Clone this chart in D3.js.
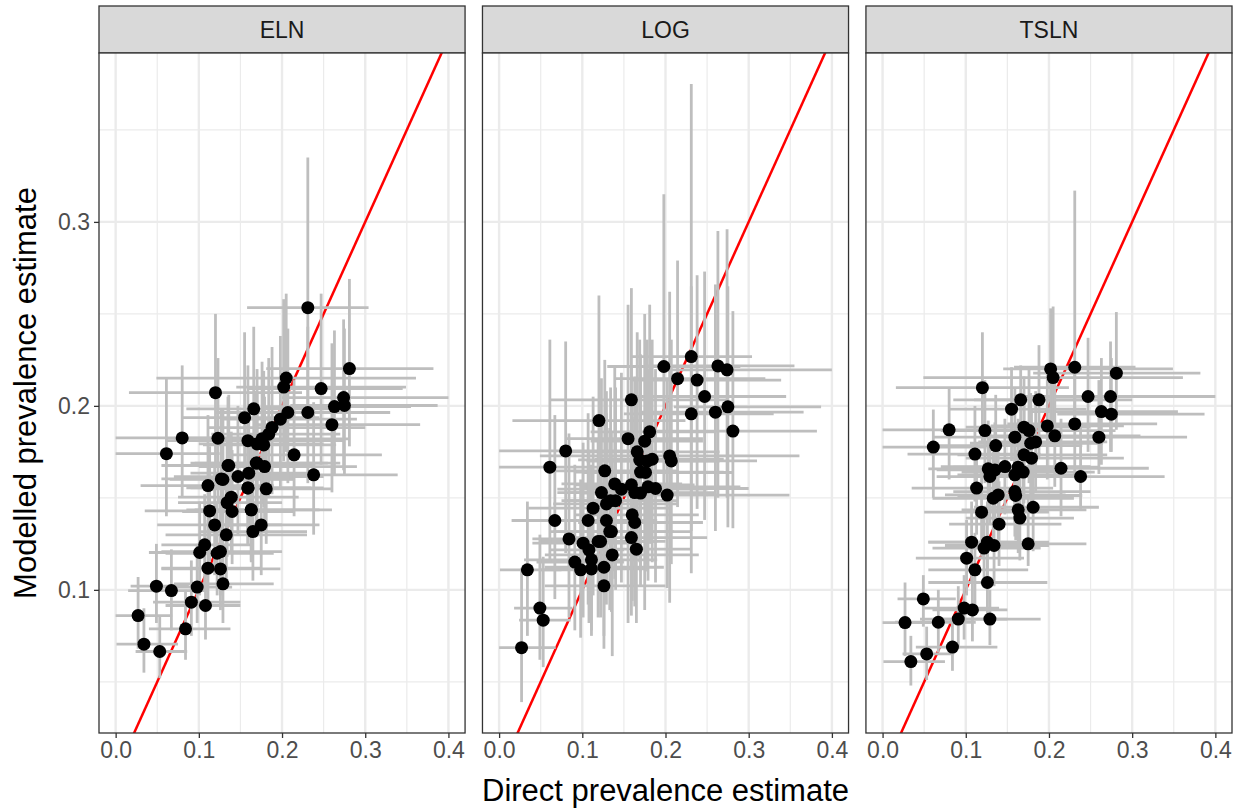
<!DOCTYPE html>
<meta charset="utf-8">

<!-- Load d3.js -->
<script src="https://d3js.org/d3.v7.min.js"></script>

<style>
  body { margin: 0; background: #fff; }
  svg { display: block; font-family: "Liberation Sans", Arial, sans-serif; }
</style>

<svg id="my_dataviz" width="1244" height="808"></svg>

<script>

// Facets and axis breaks
var models = ["ELN", "LOG", "TSLN"];
var xTicks = [0, 0.1, 0.2, 0.3, 0.4];
var yTicks = [0.1, 0.2, 0.3];
var xMinor = [0.05, 0.15, 0.25, 0.35];
var yMinor = [0.05, 0.15, 0.25, 0.35];

// Direct estimates (same in every facet) with their intervals
var direct   = [.027,.034,.049,.053,.061,.067,.080,.084,.091,.098,.101,.107,.108,.111,.111,.113,.119,.120,.122,.123,.126,.126,.127,.129,.129,.133,.134,.135,.136,.139,.140,.147,.155,.159,.159,.159,.160,.163,.163,.165,.166,.169,.170,.170,.175,.176,.178,.179,.181,.184,.188,.198,.202,.205,.207,.2145,.231,.231,.238,.247,.260,.263,.274,.275,.281];
var directLo = [0,.001,.018,.024,0,.015,0,.040,.045,.050,.040,.055,.060,.030,.055,.035,.050,.016,.060,.070,.055,.055,.055,.070,.065,.060,.075,.065,.055,.075,.080,.070,.080,.090,.060,.085,.090,.085,.095,.100,.085,.095,.100,.090,.110,.100,.105,.100,.110,.115,.110,.130,.145,.049,.120,.140,.158,.150,.160,.160,.170,.175,.200,.210,.181];
var directHi = [.068,.075,.088,.086,.125,.112,.175,.138,.150,.140,.170,.165,.150,.190,.175,.205,.200,.224,.190,.180,.200,.198,.215,.190,.215,.230,.200,.210,.240,.220,.215,.250,.245,.235,.275,.250,.240,.260,.245,.230,.265,.255,.250,.270,.245,.280,.265,.290,.260,.270,.300,.290,.349,.361,.310,.320,.304,.330,.339,.345,.366,.355,.400,.387,.382];

// Modelled estimates, one set per model
var elnEst = [.086,.0705,.102,.0665,.174,.0996,.1826,.0788,.0933,.1015,.1203,.1245,.0915,.1567,.1118,.1429,.1353,.2072,.1199,.1824,.1208,.1114,.1603,.1033,.160,.1299,.1474,.1676,.1676,.1504,.1426,.1616,.1936,.1554,.1811,.1554,.1634,.1435,.1435,.1317,.1984,.1689,.1793,.1689,.1353,.1821,.1788,.1670,.1549,.1846,.1882,.1928,.2102,.2151,.1964,.1734,.2534,.1964,.1625,.2094,.1898,.1996,.2045,.2002,.2203];
var elnLo  = [.068,.055,.082,.052,.140,.078,.150,.062,.075,.082,.097,.100,.073,.125,.090,.115,.108,.168,.097,.147,.097,.089,.128,.082,.128,.104,.118,.135,.134,.120,.114,.130,.158,.125,.147,.125,.132,.115,.116,.105,.160,.136,.145,.137,.108,.148,.145,.135,.125,.150,.152,.156,.170,.175,.158,.140,.195,.158,.130,.168,.153,.162,.165,.162,.178];
var elnHi  = [.107,.090,.125,.086,.215,.122,.222,.100,.116,.125,.148,.152,.114,.195,.138,.178,.168,.250,.148,.226,.150,.138,.198,.128,.198,.160,.182,.205,.206,.186,.176,.200,.240,.192,.222,.190,.200,.178,.176,.163,.243,.208,.220,.207,.168,.224,.219,.205,.190,.226,.232,.238,.258,.261,.242,.214,.335,.243,.202,.261,.234,.241,.247,.242,.269];

var logEst = [.0686,.1109,.0901,.0835,.1667,.1377,.1755,.1277,.1151,.1109,.1254,.1377,.1217,.1163,.1114,.1444,.1263,.1920,.1263,.1529,.1022,.1123,.1647,.1377,.1467,.1317,.1485,.1317,.1190,.1576,.1485,.1547,.1822,.1571,.2033,.1284,.1408,.1529,.1366,.1221,.1750,.1707,.1526,.1640,.1808,.1638,.1700,.1560,.1859,.1710,.1551,.2214,.1515,.1728,.1701,.2148,.2268,.1957,.2140,.2051,.1966,.2217,.2196,.1995,.1863];
var logLo  = [.039,.075,.062,.058,.115,.095,.120,.085,.078,.074,.085,.092,.082,.078,.075,.097,.085,.130,.085,.103,.068,.075,.111,.092,.099,.089,.100,.088,.064,.106,.100,.104,.082,.105,.137,.086,.094,.103,.091,.082,.118,.115,.102,.110,.089,.110,.114,.105,.125,.115,.104,.150,.101,.093,.114,.145,.109,.132,.144,.138,.132,.150,.150,.134,.1335];
var logHi  = [.112,.148,.130,.118,.236,.195,.235,.185,.168,.160,.180,.196,.175,.168,.160,.205,.182,.260,.180,.215,.150,.162,.225,.196,.208,.188,.210,.186,.172,.222,.210,.218,.255,.222,.264,.182,.200,.216,.194,.175,.240,.236,.216,.228,.250,.230,.236,.220,.255,.236,.220,.315,.215,.262,.236,.279,.375,.265,.271,.273,.266,.295,.296,.265,.2515];

var tslnEst = [.0822,.0610,.0951,.0652,.1776,.0824,.1870,.0689,.0841,.0901,.1172,.1259,.0891,.1738,.1109,.1553,.1422,.2099,.1227,.1866,.1259,.1040,.1658,.0841,.1616,.1498,.1241,.1652,.1784,.1516,.1357,.1670,.1982,.1625,.1830,.1534,.1513,.1667,.1435,.1390,.2033,.1640,.1884,.1734,.1250,.1866,.1797,.1716,.1449,.1804,.2033,.1891,.2201,.2154,.1837,.1661,.2210,.1902,.1616,.2051,.1830,.1969,.2051,.1955,.2178];
var tslnLo  = [.064,.048,.080,.051,.150,.066,.160,.056,.068,.073,.097,.104,.072,.148,.091,.130,.118,.180,.101,.158,.104,.085,.140,.070,.136,.126,.102,.139,.151,.127,.113,.141,.170,.137,.155,.129,.127,.141,.120,.116,.173,.138,.160,.147,.113,.158,.152,.145,.121,.153,.172,.160,.188,.184,.156,.140,.189,.161,.144,.175,.163,.168,.175,.175,.187];
var tslnHi  = [.104,.075,.108,.080,.198,.100,.210,.084,.102,.108,.138,.148,.107,.200,.131,.180,.167,.240,.145,.214,.148,.124,.192,.100,.188,.175,.147,.191,.206,.177,.159,.193,.221,.188,.210,.178,.176,.193,.167,.163,.222,.190,.216,.200,.150,.220,.207,.198,.169,.208,.233,.218,.253,.254,.212,.193,.317,.219,.190,.237,.214,.226,.235,.226,.251];

var modelled = {
  ELN:  { est: elnEst,  lo: elnLo,  hi: elnHi },
  LOG:  { est: logEst,  lo: logLo,  hi: logHi },
  TSLN: { est: tslnEst, lo: tslnLo, hi: tslnHi }
};

// The svg
var svg = d3.select("svg"),
  width = +svg.attr("width"),
  height = +svg.attr("height");

var margin = {top: 6, right: 12, bottom: 75, left: 99},
  stripH = 47,
  gap = 17.4;
var panelW = (width - margin.left - margin.right - gap * 2) / 3,
  panelH = height - margin.top - margin.bottom - stripH;

// ggplot style 5% expansion of the data range
function expand(ext) {
  var d = (ext[1] - ext[0]) * 0.05;
  return [ext[0] - d, ext[1] + d];
}

var x = d3.scaleLinear()
  .domain(expand([d3.min(directLo), d3.max(directHi)]))
  .range([0, panelW]);

var allLo = elnLo.concat(logLo, tslnLo),
  allHi = elnHi.concat(logHi, tslnHi);
var y = d3.scaleLinear()
  .domain(expand([d3.min(allLo), d3.max(allHi)]))
  .range([panelH, 0]);

var fmt = d3.format(".1f");

svg.append("defs").append("clipPath")
  .attr("id", "clip")
  .append("rect")
    .attr("width", panelW)
    .attr("height", panelH);

models.forEach(function(m, k) {

  var mod = modelled[m];
  var rows = direct.map(function(d, i) {
    return {x: d, xlo: directLo[i], xhi: directHi[i], y: mod.est[i], ylo: mod.lo[i], yhi: mod.hi[i]};
  });

  var left = margin.left + k * (panelW + gap),
    top = margin.top + stripH;

  // strip
  svg.append("rect")
    .attr("x", left)
    .attr("y", margin.top)
    .attr("width", panelW)
    .attr("height", stripH)
    .attr("fill", "#d9d9d9")
    .attr("stroke", "#333333")
    .attr("stroke-width", 1.3);
  svg.append("text")
    .attr("x", left + panelW / 2)
    .attr("y", margin.top + stripH / 2)
    .attr("dy", "0.35em")
    .attr("text-anchor", "middle")
    .attr("fill", "#1a1a1a")
    .style("font-size", "23px")
    .text(m);

  var g = svg.append("g")
    .attr("transform", "translate(" + left + "," + top + ")");

  g.append("rect")
    .attr("width", panelW)
    .attr("height", panelH)
    .attr("fill", "white");

  // grid
  g.selectAll(".xminor").data(xMinor).enter().append("line")
    .attr("x1", function(d) { return x(d); })
    .attr("x2", function(d) { return x(d); })
    .attr("y1", 0).attr("y2", panelH)
    .attr("stroke", "#ebebeb").attr("stroke-width", 1.2);
  g.selectAll(".yminor").data(yMinor).enter().append("line")
    .attr("y1", function(d) { return y(d); })
    .attr("y2", function(d) { return y(d); })
    .attr("x1", 0).attr("x2", panelW)
    .attr("stroke", "#ebebeb").attr("stroke-width", 1.2);
  g.selectAll(".xmajor").data(xTicks).enter().append("line")
    .attr("x1", function(d) { return x(d); })
    .attr("x2", function(d) { return x(d); })
    .attr("y1", 0).attr("y2", panelH)
    .attr("stroke", "#ebebeb").attr("stroke-width", 2.4);
  g.selectAll(".ymajor").data(yTicks).enter().append("line")
    .attr("y1", function(d) { return y(d); })
    .attr("y2", function(d) { return y(d); })
    .attr("x1", 0).attr("x2", panelW)
    .attr("stroke", "#ebebeb").attr("stroke-width", 2.4);

  var plot = g.append("g").attr("clip-path", "url(#clip)");

  // y = x reference line
  var dom = x.domain();
  plot.append("line")
    .attr("x1", x(dom[0])).attr("y1", y(dom[0]))
    .attr("x2", x(dom[1])).attr("y2", y(dom[1]))
    .attr("stroke", "#ff0000")
    .attr("stroke-width", 2.5);

  // horizontal intervals (direct)
  plot.selectAll(".hbar").data(rows).enter().append("line")
    .attr("x1", function(d) { return x(d.xlo); })
    .attr("x2", function(d) { return x(d.xhi); })
    .attr("y1", function(d) { return y(d.y); })
    .attr("y2", function(d) { return y(d.y); })
    .attr("stroke", "#bebebe")
    .attr("stroke-width", 2.8);

  // vertical intervals (modelled)
  plot.selectAll(".vbar").data(rows).enter().append("line")
    .attr("x1", function(d) { return x(d.x); })
    .attr("x2", function(d) { return x(d.x); })
    .attr("y1", function(d) { return y(d.ylo); })
    .attr("y2", function(d) { return y(d.yhi); })
    .attr("stroke", "#bebebe")
    .attr("stroke-width", 2.8);

  // points
  plot.selectAll("circle").data(rows).enter().append("circle")
    .attr("cx", function(d) { return x(d.x); })
    .attr("cy", function(d) { return y(d.y); })
    .attr("r", 6.5)
    .attr("fill", "black");

  g.append("rect")
    .attr("width", panelW)
    .attr("height", panelH)
    .attr("fill", "none")
    .attr("stroke", "#333333")
    .attr("stroke-width", 1.3);

  // x axis
  var xa = g.append("g")
    .attr("transform", "translate(0," + panelH + ")")
    .call(d3.axisBottom(x).tickValues(xTicks).tickFormat(fmt).tickSize(5).tickPadding(4))
    .attr("font-size", null)
    .attr("font-family", null);
  xa.select(".domain").remove();
  xa.selectAll("line").attr("stroke", "#333333").attr("stroke-width", 1.3);
  xa.selectAll("text").attr("fill", "#4d4d4d").style("font-size", "23px");

  // y axis only on the first facet
  if (k === 0) {
    var ya = g.append("g")
      .call(d3.axisLeft(y).tickValues(yTicks).tickFormat(fmt).tickSize(5).tickPadding(4))
      .attr("font-size", null)
      .attr("font-family", null);
    ya.select(".domain").remove();
    ya.selectAll("line").attr("stroke", "#333333").attr("stroke-width", 1.3);
    ya.selectAll("text").attr("fill", "#4d4d4d").style("font-size", "23px");
  }
});

// axis titles
svg.append("text")
  .attr("x", margin.left + (width - margin.left - margin.right) / 2)
  .attr("y", height - 18)
  .attr("dy", "0.35em")
  .attr("text-anchor", "middle")
  .attr("fill", "black")
  .style("font-size", "31px")
  .text("Direct prevalence estimate");

svg.append("text")
  .attr("transform", "translate(25," + (margin.top + stripH + panelH / 2) + ") rotate(-90)")
  .attr("dy", "0.35em")
  .attr("text-anchor", "middle")
  .attr("fill", "black")
  .style("font-size", "31px")
  .text("Modelled prevalence estimate");

</script>
